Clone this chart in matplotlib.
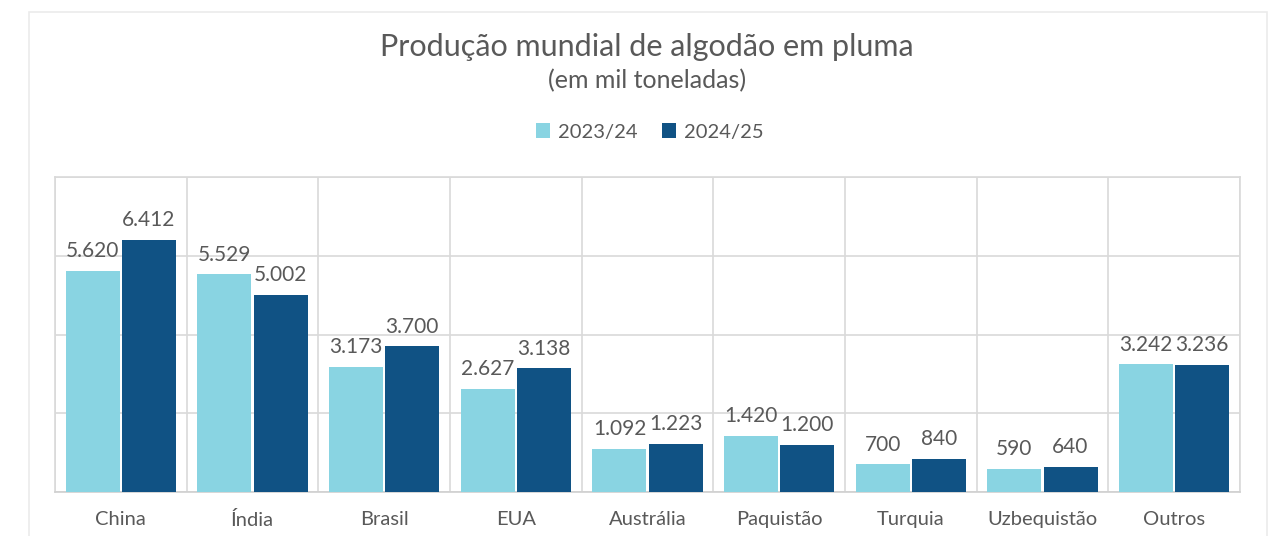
import matplotlib.pyplot as plt
import numpy as np
from matplotlib.patches import Rectangle

# Dados (mil toneladas)
paises = ['China', 'Índia', 'Brasil', 'EUA', 'Austrália', 'Paquistão', 'Turquia', 'Uzbequistão', 'Outros']
safra_2324 = [5620, 5529, 3173, 2627, 1092, 1420, 700, 590, 3242]
safra_2425 = [6412, 5002, 3700, 3138, 1223, 1200, 840, 640, 3236]
series = ['2023/24', '2024/25']

cor_clara = '#89D4E2'
cor_escura = '#105284'
cor_texto = '#595959'
cor_grade = '#D9D9D9'

plt.rcParams['font.family'] = ['Lato', 'DejaVu Sans']

fig = plt.figure(figsize=(12.81, 5.36), dpi=100)

# Moldura externa do gráfico
fig.patches.append(Rectangle((29 / 1281, -0.05), (1267 - 29) / 1281, 1.05 - 12 / 536,
                             transform=fig.transFigure, fill=False,
                             edgecolor='#EBEBEB', linewidth=1.2))

ax = fig.add_axes([55 / 1281, 1 - 492 / 536, (1240 - 55) / 1281, (492 - 177) / 536])

x = np.arange(len(paises))
largura = 0.41
gap = 0.008
b1 = ax.bar(x - largura / 2 - gap, safra_2324, largura, color=cor_clara, label=series[0], zorder=3)
b2 = ax.bar(x + largura / 2 + gap, safra_2425, largura, color=cor_escura, label=series[1], zorder=3)

def fmt(v):
    return f'{v:,}'.replace(',', '.')

for barras in (b1, b2):
    for b in barras:
        ax.annotate(fmt(int(b.get_height())), (b.get_x() + b.get_width() / 2, b.get_height()),
                    textcoords='offset points', xytext=(0, 7), ha='center', va='bottom',
                    fontsize=15, color=cor_texto)

ax.set_xlim(-0.5, len(paises) - 0.5)
ax.set_ylim(0, 8000)
ax.set_yticks([0, 2000, 4000, 6000, 8000])
ax.set_yticklabels([])
ax.tick_params(axis='y', length=0)
ax.set_xticks(x)
ax.set_xticklabels(paises, fontsize=14.5, color=cor_texto)
ax.set_xticks(np.arange(-0.5, len(paises), 1), minor=True)
ax.tick_params(axis='x', which='both', length=0, pad=14)

ax.grid(axis='y', which='major', color=cor_grade, linewidth=1.2, zorder=0)
ax.grid(axis='x', which='minor', color=cor_grade, linewidth=1.2, zorder=0)
ax.grid(axis='x', which='major', visible=False)
for s in ax.spines.values():
    s.set_color(cor_grade)
    s.set_linewidth(1.2)
ax.spines['bottom'].set_color('#D0D0D0')

fig.text(647 / 1281, 1 - 47 / 536, 'Produção mundial de algodão em pluma', ha='center', va='center',
         fontsize=22, color=cor_texto)
fig.text(647 / 1281, 1 - 81 / 536, '(em mil toneladas)', ha='center', va='center',
         fontsize=18, color=cor_texto)

fig.legend(handles=[b1, b2], labels=series, loc='center', bbox_to_anchor=(650 / 1281, 1 - 132 / 536),
           ncol=2, frameon=False, fontsize=14.5, handlelength=0.7, handleheight=0.7,
           handletextpad=0.4, columnspacing=1.2, labelcolor=cor_texto)

fig.savefig('out.png', dpi=100)
